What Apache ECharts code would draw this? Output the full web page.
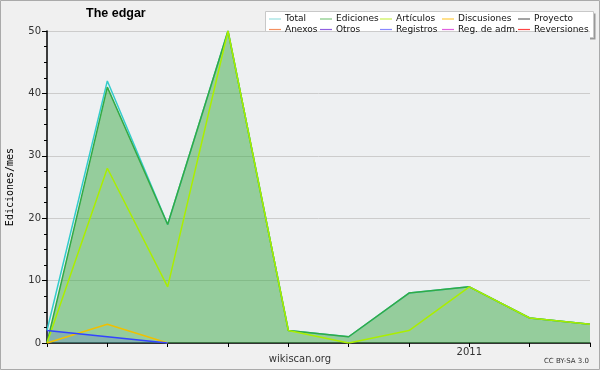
<!DOCTYPE html>
<html><head><meta charset="utf-8">
<script src="https://cdn.jsdelivr.net/npm/echarts@6/dist/echarts.min.js"></script>
<style>html,body{margin:0;padding:0;background:#f0f0f0}#c{width:600px;height:370px}</style>
</head><body><div id="c"></div>
<script>
const categories = ['2010-06','2010-07','2010-08','2010-09','2010-10','2010-11','2010-12','2011-01','2011-02','2011-03'];
const xLabels = ['','','','','','','','2011','',''];
const total      = [2, 42, 19, 50, 2, 1, 8, 9, 4, 3];
const ediciones  = [0, 41, 19, 50, 2, 1, 8, 9, 4, 3];
const articulos  = [0, 28, 9, 50, 2, 0, 2, 9, 4, 3];
const discusiones= [0, 3, 0, null, null, null, null, null, null, null];
const registros  = [2, 1, 0, null, null, null, null, null, null, null];
const empty = [null,null,null,null,null,null,null,null,null,null];
const yTicks = [0, 10, 20, 30, 40, 50];

const F = 'DejaVu Sans';
const seriesDefs = [
  {name:'Total', data: total, color:'#33cccc', legend:'#99e0e0'},
  {name:'Anexos', data: empty, color:'#ff8040', legend:'#f49060'},
  {name:'Ediciones', data: ediciones, color:'#33aa44', area:'rgba(60,170,70,0.5)', legend:'#80c880'},
  {name:'Otros', data: empty, color:'#8040e0', legend:'#9060e0'},
  {name:'Artículos', data: articulos, color:'#aaee00', legend:'#c8f050'},
  {name:'Registros', data: registros, color:'#3344ff', area:'rgba(60,60,255,0.18)', legend:'#8888ff'},
  {name:'Discusiones', data: discusiones, color:'#f0c000', legend:'#ffcc40'},
  {name:'Reg. de adm.', data: empty, color:'#dd44dd', legend:'#e060e0'},
  {name:'Proyecto', data: empty, color:'#555555', legend:'#666666'},
  {name:'Reversiones', data: empty, color:'#ff3333', legend:'#ff4444'}
];
const drawOrder = ['Total','Ediciones','Artículos','Discusiones','Registros','Anexos','Otros','Reg. de adm.','Proyecto','Reversiones'];
const series = drawOrder.map(n => {
  const d = seriesDefs.find(s => s.name === n);
  const s = {name:d.name, type:'line', data:d.data, showSymbol:false, symbol:'none',
    color:d.color, lineStyle:{width:1.5, color:d.color}, itemStyle:{color:d.color}, animation:false};
  if (d.area) s.areaStyle = {color:d.area, opacity:1};
  return s;
});
const legendCols = [[0,1],[2,3],[4,5],[6,7],[8,9]];
const legendLeft = [269, 320, 380, 442, 518];
const legends = legendCols.map((c,i) => ({
  orient:'vertical', left: legendLeft[i], top: 14, padding:0, itemGap:0.5,
  itemWidth:12, itemHeight:1.2, icon:'rect', selectedMode:false,
  textStyle:{fontFamily:F, fontSize:9, color:'#111', lineHeight:10, padding:[0,0,0,-1]},
  data: c.map(k => ({name:seriesDefs[k].name, itemStyle:{color:seriesDefs[k].legend}}))
}));

const chart = echarts.init(document.getElementById('c'));
chart.setOption({
  backgroundColor:'#f0f0f0',
  animation:false,
  title:{text:'The edgar', left:86, top:7, padding:0,
    textStyle:{fontFamily:'Liberation Sans', fontSize:12.5, fontWeight:'bold', color:'#000'}},
  legend: legends,
  grid:{left:47, right:10, top:31, bottom:27, show:true, backgroundColor:'#eef0f2', borderWidth:0,
    containLabel:false, outerBoundsMode:'none'},
  xAxis:{type:'category', data:categories, boundaryGap:false,
    axisLine:{lineStyle:{color:'#000', width:1.5}},
    axisTick:{show:true, interval:0, length:4, lineStyle:{color:'#000'}},
    axisLabel:{interval:0, margin:4, fontFamily:F, fontSize:10, color:'#333',
      formatter:(v,i)=>xLabels[i]},
    splitLine:{show:false}},
  yAxis:{type:'value', min:0, max:50, interval:10,
    name:'Ediciones/mes', nameLocation:'middle', nameRotate:90, nameGap:32,
    nameTextStyle:{fontFamily:'DejaVu Sans Mono', fontSize:10, color:'#000'},
    axisLine:{show:true, lineStyle:{color:'#000', width:1.5}},
    axisTick:{show:true, length:5, lineStyle:{color:'#000'}},
    minorTick:{show:true, splitNumber:4, length:3, lineStyle:{color:'#000'}},
    axisLabel:{margin:6, fontFamily:F, fontSize:10, color:'#333',
      formatter:v => yTicks.includes(v) ? String(v) : ''},
    splitLine:{show:true, lineStyle:{color:'#cccccc', width:1}}},
  graphic:[
    {type:'rect', z:-2, shape:{x:267.5, y:13.5, width:328, height:26},
      style:{fill:'#999999', stroke:null}},
    {type:'rect', z:-1, shape:{x:265.5, y:11.5, width:328, height:26},
      style:{fill:'#ffffff', stroke:'#c8c8c8', lineWidth:1}},
    {type:'rect', z:100, silent:true, shape:{x:0.5, y:0.5, width:599, height:369},
      style:{fill:null, stroke:'#aaaaaa', lineWidth:1}},
    {type:'text', left:'center', top:354, style:{text:'wikiscan.org', font:'10px "DejaVu Sans"', fill:'#333'}},
    {type:'text', right:11, top:358, style:{text:'CC BY-SA 3.0', font:'7px "DejaVu Sans"', fill:'#333'}}
  ],
  series: series
});
</script></body></html>
